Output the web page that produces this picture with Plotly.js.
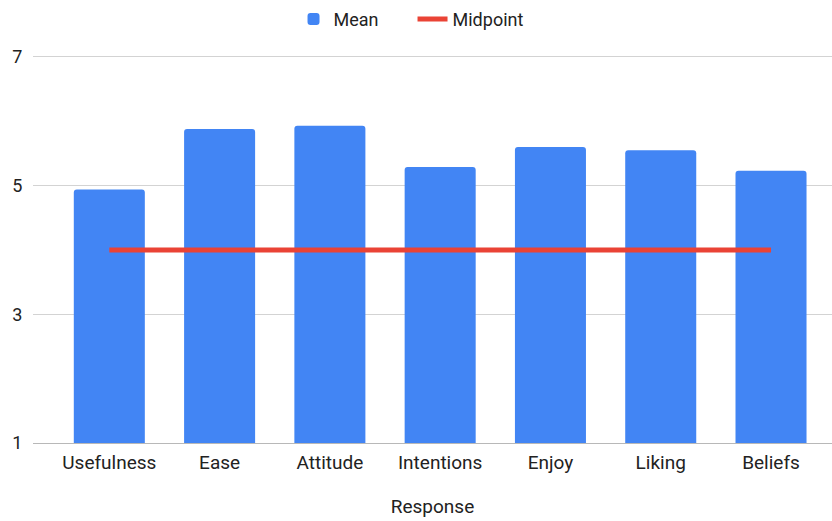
<!DOCTYPE html>
<html>
<head>
<meta charset="utf-8">
<script src="https://cdn.plot.ly/plotly-3.0.1.min.js"></script>
<style>
  html, body { margin: 0; padding: 0; background: #ffffff; }
  #chart { width: 832px; height: 521px; }
</style>
</head>
<body>
<div id="chart"></div>
<script>
// Survey scale responses (1–7), mean score per construct
const categories = ['Usefulness', 'Ease', 'Attitude', 'Intentions', 'Enjoy', 'Liking', 'Beliefs'];
const meanValues = [4.94, 5.88, 5.93, 5.29, 5.60, 5.55, 5.23];
const midpointValues = [4, 4, 4, 4, 4, 4, 4];
const yTicks = [1, 3, 5, 7];

const fontFamily = 'Roboto, Arial, sans-serif';

const traces = [
  {
    type: 'bar',
    name: 'Mean',
    x: categories,
    y: meanValues,
    marker: { color: '#4285F4', cornerradius: 3 },
    hoverinfo: 'x+y'
  },
  {
    type: 'scatter',
    mode: 'lines',
    name: 'Midpoint',
    x: categories,
    y: midpointValues,
    line: { color: '#EA4335', width: 5 },
    hoverinfo: 'x+y'
  }
];

const layout = {
  width: 832,
  height: 521,
  margin: { l: 33, r: 0, t: 55, b: 78 },
  paper_bgcolor: '#ffffff',
  plot_bgcolor: '#ffffff',
  font: { family: fontFamily, size: 19, color: '#222222' },
  bargap: 0.356,
  showlegend: true,
  legend: {
    orientation: 'h',
    x: 0.475,
    xanchor: 'center',
    y: 1.092,
    yanchor: 'middle',
    font: { family: fontFamily, size: 18, color: '#222222' },
    itemwidth: 30,
    entrywidth: 74,
    entrywidthmode: 'pixels',
    traceorder: 'normal'
  },
  xaxis: {
    type: 'category',
    range: [-0.692, 6.553],
    showgrid: false,
    showline: true,
    linecolor: '#b8b8b8',
    linewidth: 1,
    zeroline: false,
    ticks: 'outside',
    ticklen: 2,
    tickcolor: 'rgba(0,0,0,0)',
    tickfont: { family: fontFamily, size: 19, color: '#222222' },
    title: { text: 'Response', standoff: 26, font: { family: fontFamily, size: 19, color: '#222222' } },
    fixedrange: true
  },
  yaxis: {
    range: [1, 7.03],
    tickvals: yTicks,
    ticktext: yTicks.map(String),
    showgrid: true,
    gridcolor: '#d3d3d3',
    gridwidth: 1,
    zeroline: false,
    showline: false,
    ticks: 'outside',
    ticklen: 6,
    tickcolor: 'rgba(0,0,0,0)',
    tickfont: { family: fontFamily, size: 18, color: '#222222' },
    fixedrange: true
  }
};

Plotly.newPlot('chart', traces, layout, { displayModeBar: false, staticPlot: true });
</script>
</body>
</html>
